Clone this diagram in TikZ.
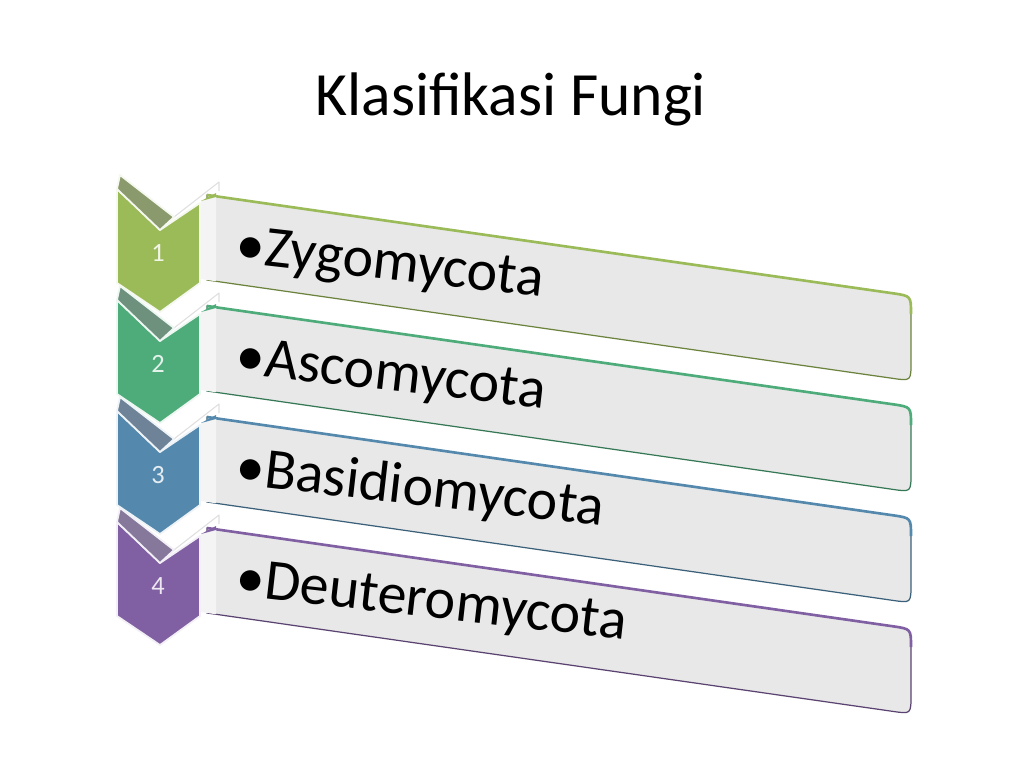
\documentclass[tikz,border=0pt]{standalone}
\usepackage{fontspec}
\setmainfont{Carlito}
\definecolor{leaf}{RGB}{155, 187, 89}
\definecolor{leafdark}{RGB}{138, 154, 108}
\definecolor{jade}{RGB}{77, 172, 122}
\definecolor{jadedark}{RGB}{110, 145, 126}
\definecolor{denim}{RGB}{84, 137, 173}
\definecolor{denimdark}{RGB}{110, 131, 152}
\definecolor{grape}{RGB}{128, 96, 162}
\definecolor{grapedark}{RGB}{133, 120, 154}
\definecolor{panel}{RGB}{232, 232, 232}
\definecolor{panelside}{RGB}{244, 244, 244}

\tikzset{
  chevface/.style={fill=#1, draw=white!90!#1, line width=1pt, line join=round},
  chevfold/.style={fill=#1dark, draw=white!90!#1, line width=1pt, line join=round},
  chevback/.style={draw=white!75!gray, line width=0.6pt, line join=round},
  barbody/.style={fill=panel, draw=#1!70!black, line width=0.7pt},
  bartop/.style={draw=#1, line width=1.5pt},
  itemtext/.style={font=\fontsize{33}{40}\selectfont, anchor=base west, rotate=-6.5, inner sep=0pt},
  numtext/.style={font=\fontsize{15}{18}\selectfont, text=white!85!#1}
}

\begin{document}
\begin{tikzpicture}[x=0.02cm, y=-0.02cm]
  \useasboundingbox (0,0) rectangle (1024,768);
  \fill[white] (0,0) rectangle (1024,768);
  \node[font=\fontsize{35}{42}\selectfont, anchor=base] (title) at (511,115) {Klasifikasi Fungi};
  % rows, last first so the upper chevrons lie on top
  \foreach \i/\hue/\taxon in {3/grape/Deuteromycota, 2/denim/Basidiomycota, 1/jade/Ascomycota, 0/leaf/Zygomycota}{
    \pgfmathsetmacro{\yc}{175+111*\i}
    \pgfmathsetmacro{\yb}{195+111*\i}
    % panel
    \filldraw[barbody=\hue] (207,\yb) -- (893,\yb+98.3) .. controls (911,\yb+100.9) .. (911,\yb+119)
                            -- (911,\yb+167) .. controls (911,\yb+186) .. (893,\yb+183.4)
                            -- (207,\yb+85) -- cycle;
    \draw[bartop=\hue]      (207,\yb) -- (893,\yb+98.3) .. controls (911,\yb+100.9) .. (911,\yb+119);
    \fill[panelside]        (201,\yb+6) -- (216,\yb+1.3) -- (216,\yb+86.3) -- (201,\yb+84) -- cycle;
    \fill[\hue]             (201,\yb+6) -- (216,\yb-2) -- (216,\yb+2) -- cycle;
    \node[itemtext] (item\i) at (234,\yb+67) {\textbullet\taxon};
    % chevron
    \draw[chevback]          (174,\yc+42) -- (219,\yc+7) -- (219,\yc+16);
    \filldraw[chevface=\hue] (117,\yc+14) -- (160,\yc+55) -- (200,\yc+28) -- (200,\yc+108)
                             -- (160,\yc+137) -- (117,\yc+108) -- cycle;
    \filldraw[chevfold=\hue] (120,\yc) -- (174,\yc+42) -- (160,\yc+55) -- (117,\yc+14) -- cycle;
    \node[numtext=\hue] (num\i) at (158,\yc+78) {\pgfmathparse{int(\i+1)}\pgfmathresult};
  }
\end{tikzpicture}
\end{document}
